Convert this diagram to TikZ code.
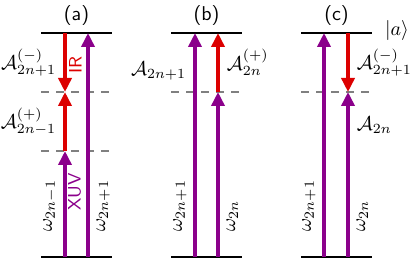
\documentclass[tikz,border=0pt]{standalone}
\usepackage{amsmath,amssymb}
\usepackage{tikz}
\usetikzlibrary{arrows.meta}
\definecolor{xuvcol}{RGB}{139,0,139}
\definecolor{ircol}{RGB}{220,0,0}
\tikzset{
  level/.style={line width=1pt},
  virt/.style={line width=0.6pt, gray, dash pattern=on 4pt off 3.5pt},
  xuv/.style={line width=1.8pt, xuvcol, -{Triangle[width=6.5pt,length=7pt]}},
  ir/.style={line width=1.8pt, ircol, -{Triangle[width=6.5pt,length=7pt]}},
  lab/.style={font=\sffamily},
  beam/.style={font=\sffamily\small, rotate=90, inner sep=0pt},
  amp/.style={text=black, inner sep=0.5pt},
  wl/.style={rotate=90, anchor=south west, text=black},
  wr/.style={rotate=90, anchor=north west, text=black}
}

\begin{document}
\begin{tikzpicture}[x=0.5pt, y=-0.5pt]
		\useasboundingbox (0,0) rectangle (415,265);
		\coordinate (g) at (0,257);
		\coordinate (e) at (0,33);
		\coordinate (v1) at (0,92);
		\coordinate (v2) at (0,151);
		\coordinate (a1) at (65,0);
		\coordinate (a2) at (88,0);
		\coordinate (b1) at (195,0);
		\coordinate (b2) at (218,0);
		\coordinate (c1) at (324,0);
		\coordinate (c2) at (348,0);
		% Niveaus
		\foreach \p/\x in {a/76.5, b/206.5, c/336.5} {
			\draw[level] ({\x-35.5},33) -- ({\x+35.5},33);
			\draw[level] ({\x-35.5},257) -- ({\x+35.5},257);
			\draw[virt] ({\x-35.5},92) -- ({\x+35.5},92);
			\node[lab] (tit\p) at (\x,16) {(\p)};
		}
		\draw[virt] (41,151) -- (112,151);
		\node[anchor=west] (ket) at (378,31) {$|a\rangle$};
		% (a)
		\draw[ir] (a1 |- e) -- (a1 |- v1) node[midway, left=3pt, amp] {$\mathcal{A}^{(-)}_{2n+1}$};
		\draw[ir] (a1 |- v2) -- (a1 |- v1) node[midway, left=3pt, amp] {$\mathcal{A}^{(+)}_{2n-1}$};
		\draw[xuv] (a1 |- g) -- (a1 |- v2) node[pos=0.16, wl] {$\omega_{2n-1}$};
		\draw[xuv] (a2 |- g) -- (a2 |- e) node[pos=0.076, wr] {$\omega_{2n+1}$};
		\node[beam, ircol] (ir) at (75.5,65) {IR};
		\node[beam, xuvcol] (xuv) at (74.5,192) {XUV};
		% (b)
		\draw[xuv] (b1 |- g) -- (b1 |- e) node[pos=0.83, left=3pt, amp] {$\mathcal{A}_{2n+1}$}
			node[pos=0.076, wl] {$\omega_{2n+1}$};
		\draw[xuv] (b2 |- g) -- (b2 |- v1) node[pos=0.103, wr] {$\omega_{2n}$};
		\draw[ir] (b2 |- v1) -- (b2 |- e) node[midway, right=3pt, amp] {$\mathcal{A}^{(+)}_{2n}$};
		% (c)
		\draw[xuv] (c1 |- g) -- (c1 |- e) node[pos=0.076, wl] {$\omega_{2n+1}$};
		\draw[xuv] (c2 |- g) -- (c2 |- v1) node[pos=0.103, wr] {$\omega_{2n}$}
			node[pos=0.8, right=3pt, amp] {$\mathcal{A}_{2n}$};
		\draw[ir] (c2 |- e) -- (c2 |- v1) node[midway, right=3pt, amp] {$\mathcal{A}^{(-)}_{2n+1}$};
	\end{tikzpicture}
\end{document}
